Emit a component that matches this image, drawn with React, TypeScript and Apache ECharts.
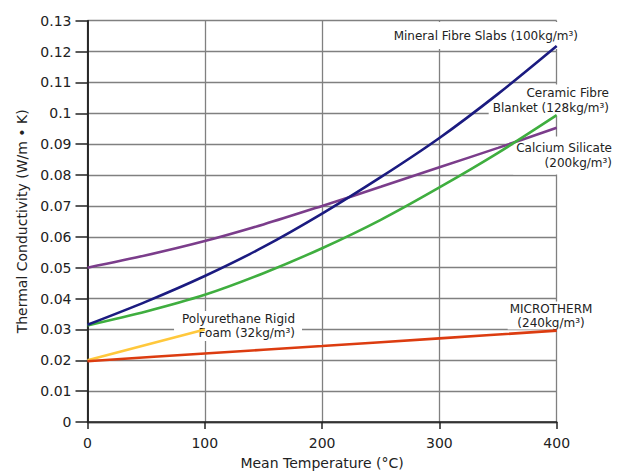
import React, { useEffect, useRef } from "react";
import * as echarts from "echarts";

const temps = [0, 50, 100, 150, 200, 250, 300, 350, 400];
const mineralFibre = [0.0315, 0.039, 0.0473, 0.0567, 0.0675, 0.0793, 0.092, 0.1063, 0.1218];
const ceramicFibre = [0.0313, 0.0358, 0.0412, 0.0482, 0.0563, 0.0655, 0.076, 0.0872, 0.0994];
const calciumSilicate = [0.05, 0.054, 0.0586, 0.064, 0.07, 0.0762, 0.0825, 0.0888, 0.0953];
const polyTemps = [0, 100];
const polyurethane = [0.02, 0.03];
const microTemps = [0, 100, 200, 300, 400];
const microtherm = [0.0197, 0.0222, 0.0246, 0.0271, 0.0296];

const xTicks = [0, 100, 200, 300, 400];
const yMax = 0.13;
const yStep = 0.01;

const FONT = "DejaVu Sans";

const pairs = (xs: number[], ys: number[]) => xs.map((x, i) => [x, ys[i]]);

export default function App() {
  const ref = useRef<HTMLDivElement>(null);
  useEffect(() => {
    const chart = echarts.init(ref.current!, undefined, { renderer: "svg" });
    const lbl = (
      text: string,
      x: number,
      y: number,
      align: string,
      lineHeight: number,
      padding: number[]
    ) => ({
      type: "text",
      z: 1,
      x,
      y,
      style: {
        text,
        align,
        verticalAlign: "middle",
        font: `12px "${FONT}"`,
        fill: "#222",
        lineHeight,
        backgroundColor: "#fff",
        padding,
      },
    });
    const axisLineStyle = { color: "#222", width: 1.5 };
    const split = { show: true, lineStyle: { color: "#808080", width: 1.3 } };
    const curve = (name: string, xs: number[], ys: number[], color: string, smooth: any) => ({
      name,
      type: "line",
      smooth,
      symbol: "none",
      data: pairs(xs, ys),
      lineStyle: { color, width: 2.6 },
    });
    chart.setOption({
      animation: false,
      backgroundColor: "#fff",
      grid: { left: 87.5, right: 63.3, top: 20.7, bottom: 50, containLabel: false },
      xAxis: [
        {
          type: "value",
          min: xTicks[0],
          max: xTicks[xTicks.length - 1],
          interval: 100,
          name: "Mean Temperature (°C)",
          nameLocation: "middle",
          nameGap: 34,
          nameTextStyle: { fontFamily: FONT, fontSize: 14, color: "#222" },
          axisLine: { show: true, lineStyle: axisLineStyle },
          axisTick: { show: true, length: 7, lineStyle: axisLineStyle },
          axisLabel: { fontFamily: FONT, fontSize: 14, color: "#222", margin: 14 },
          splitLine: split,
        },
        {
          type: "value",
          position: "top",
          min: xTicks[0],
          max: xTicks[xTicks.length - 1],
          axisLine: { show: true, lineStyle: { color: "#333", width: 1.3 } },
          axisTick: { show: false },
          axisLabel: { show: false },
          splitLine: { show: false },
        },
      ],
      yAxis: [
        {
          type: "value",
          min: 0,
          max: yMax,
          interval: yStep,
          name: "Thermal Conductivity (W/m • K)",
          nameLocation: "middle",
          nameGap: 49,
          nameTextStyle: { fontFamily: FONT, fontSize: 14, color: "#222" },
          axisLine: { show: true, lineStyle: axisLineStyle },
          axisTick: { show: true, length: 12, lineStyle: axisLineStyle },
          axisLabel: {
            fontFamily: FONT,
            fontSize: 14,
            color: "#222",
            margin: 16,
            formatter: (v: number) => String(parseFloat(v.toFixed(2))),
          },
          splitLine: split,
        },
        {
          type: "value",
          position: "right",
          min: 0,
          max: yMax,
          axisLine: { show: true, lineStyle: axisLineStyle },
          axisTick: { show: false },
          axisLabel: { show: false },
          splitLine: { show: false },
        },
      ],
      series: [
        curve("Calcium Silicate", temps, calciumSilicate, "#7b3d8b", 0.3),
        curve("Ceramic Fibre Blanket", temps, ceramicFibre, "#3fae3f", 0.3),
        curve("Mineral Fibre Slabs", temps, mineralFibre, "#1b1b80", 0.3),
        curve("Polyurethane Rigid Foam", polyTemps, polyurethane, "#ffc83c", false),
        curve("MICROTHERM", microTemps, microtherm, "#dc3c10", 0.3),
      ],
      graphic: [
        lbl("Mineral Fibre Slabs (100kg/m³)", 580, 35.5, "right", 14, [6, 2, 7, 4]),
        lbl("Ceramic Fibre\nBlanket (128kg/m³)", 611, 100.4, "right", 15, [1, 2, 1, 4]),
        lbl("Calcium Silicate\n(200kg/m³)", 614, 155.5, "right", 15, [6, 2, 2, 3]),
        lbl("MICROTHERM\n(240kg/m³)", 551, 315.5, "center", 14, [0, 2, 0, 2]),
        lbl("Polyurethane Rigid\nFoam (32kg/m³)", 302, 326, "right", 14, [1, 7, 1, 8]),
      ],
    });
    return () => chart.dispose();
  }, []);
  return (
    <div
      ref={ref}
      style={{ position: "fixed", left: 0, top: 0, width: 620, height: 475 }}
    />
  );
}
